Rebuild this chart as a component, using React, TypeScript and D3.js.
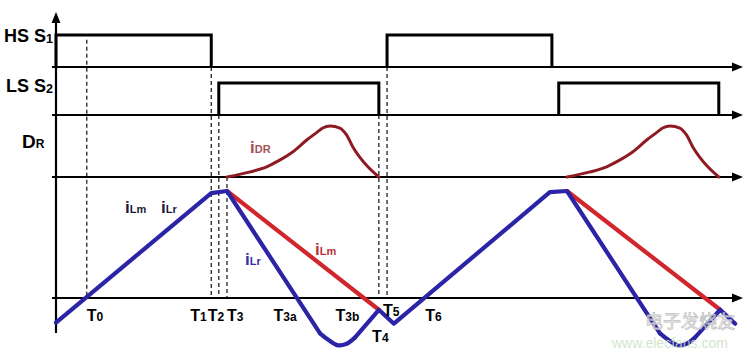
import * as d3 from 'd3'

const W = 754
const H = 354

// time runs 0..100 across the plot, currents are in units of the peak current
const hsPulses: [number, number][] = [[0, 22.7], [48.4, 72.5]]
const lsPulses: [number, number][] = [[23.8, 47.2], [73.5, 96.9]]

// rectifier diode current (normalised to its peak)
const iDR1: [number, number][] = [
  [25.0, 0], [28.4, 0.1], [30.8, 0.2], [32.7, 0.33], [34.6, 0.49], [36.7, 0.73], [38.2, 0.88],
  [39.0, 0.96], [40.1, 1], [41.5, 0.96], [42.5, 0.82], [43.4, 0.59], [44.4, 0.39], [45.6, 0.2], [47.2, 0],
]
const iDR2: [number, number][] = [
  [74.7, 0], [78.1, 0.1], [80.5, 0.2], [82.4, 0.33], [84.3, 0.49], [86.4, 0.73], [87.9, 0.88],
  [88.7, 0.96], [89.8, 1], [91.2, 0.96], [92.2, 0.82], [93.1, 0.59], [94.1, 0.39], [95.3, 0.2], [96.9, 0],
]

// resonant current iLr: straight ramps with rounded dips
const iLrRamp1: [number, number][] = [[0, -0.23], [22.7, 0.98], [25.0, 1.0], [38.6, -0.33]]
const iLrDip1: [number, number][] = [[38.6, -0.33], [39.8, -0.39], [41.1, -0.44], [42.4, -0.43], [43.7, -0.37]]
const iLrRamp2: [number, number][] = [[43.7, -0.37], [47.2, -0.11], [49.4, -0.24], [72.2, 0.99], [74.7, 1.0], [88.3, -0.33]]
const iLrDip2: [number, number][] = [[88.3, -0.33], [89.5, -0.39], [90.8, -0.44], [92.1, -0.43], [93.4, -0.37]]
const iLrTail: [number, number][] = [[93.4, -0.37], [97.1, -0.11], [99.3, -0.24]]

// magnetizing current iLm
const iLm1: [number, number][] = [[25.0, 1.0], [47.2, -0.11]]
const iLm2: [number, number][] = [[74.7, 1.0], [97.1, -0.11]]

// dashed instants and the lane where each dashed line starts
const markerTimes = [4.5, 22.7, 23.8, 25.0, 47.2, 48.4]
const markerFrom = ['hsHigh', 'hs', 'ls', 'dr', 'ls', 'hs']

// time labels: main letter, subscript, time
const timeLabels: [string, string, number][] = [
  ['T', '0', 4.5], ['T', '1', 22.7], ['T', '2', 23.8], ['T', '3', 25.0],
  ['T', '3a', 33.5], ['T', '3b', 42.6], ['T', '4', 47.2], ['T', '5', 48.4], ['T', '6', 55.2],
]

const BLUE = '#2b24a6'
const RED = '#d0262c'
const DARKRED = '#8e1b22'

export default function App() {
  const x = d3.scaleLinear().domain([0, 100]).range([56, 740])
  const hsY = d3.scaleLinear().domain([0, 1]).range([67, 35])
  const lsY = d3.scaleLinear().domain([0, 1]).range([115, 83])
  const drY = d3.scaleLinear().domain([0, 1]).range([177, 126])
  const iY = d3.scaleLinear().domain([0, 1]).range([298, 191])

  const lineI = (curve: d3.CurveFactory) =>
    d3.line<[number, number]>().x(d => x(d[0])).y(d => iY(d[1])).curve(curve)
  const lineDR = d3.line<[number, number]>().x(d => x(d[0])).y(d => drY(d[1])).curve(d3.curveMonotoneX)

  const pulse = (s: number, e: number, y: d3.ScaleLinear<number, number>) =>
    d3.line<[number, number]>().x(d => x(d[0])).y(d => y(d[1]))([[s, 0], [s, 1], [e, 1], [e, 0]])

  const topOf: Record<string, number> = { hsHigh: hsY(0.85), hs: hsY(0), ls: lsY(0), dr: drY(0) }

  // label placement (px) relative to the instant it names
  const labelPos: Record<string, { dx: number; y: number; anchor: string }> = {
    '0': { dx: 0, y: 321, anchor: 'start' },
    '1': { dx: -21, y: 321, anchor: 'start' },
    '2': { dx: -11, y: 321, anchor: 'start' },
    '3': { dx: 0, y: 321, anchor: 'start' },
    '3a': { dx: 0, y: 321, anchor: 'middle' },
    '3b': { dx: 0, y: 321, anchor: 'middle' },
    '4': { dx: 1.5, y: 342, anchor: 'middle' },
    '5': { dx: -4, y: 316, anchor: 'start' },
    '6': { dx: 0, y: 321, anchor: 'middle' },
  }

  const lanes = [hsY(0), lsY(0), drY(0), iY(0)]
  const font = "'Liberation Sans Narrow', 'Liberation Sans', Arial, sans-serif"

  return (
    <>
      <style>{'body{margin:0}'}</style>
      <svg width={W} height={H} style={{ display: 'block', background: '#fff' }} fontFamily={font}>
        {/* dashed instants */}
        {markerTimes.map((t, i) => (
          <line key={'m' + i} x1={x(t)} x2={x(t)} y1={topOf[markerFrom[i]]} y2={iY(0)}
            stroke="#222" strokeWidth={1.3} strokeDasharray="4,3" />
        ))}

        {/* axes */}
        <line x1={56} x2={56} y1={20} y2={333} stroke="#000" strokeWidth={2.2} />
        <path d="M56,12 L51.5,23 L60.5,23 Z" fill="#000" />
        {lanes.map((y, i) => (
          <g key={'a' + i}>
            <line x1={52} x2={734} y1={y} y2={y} stroke="#000" strokeWidth={2.2} />
            <path d={`M743,${y} L732,${y - 4.5} L732,${y + 4.5} Z`} fill="#000" />
          </g>
        ))}

        {/* gate signals */}
        {hsPulses.map(([s, e], i) => (
          <path key={'hs' + i} d={pulse(s, e, hsY) ?? ''} fill="none" stroke="#000" strokeWidth={3} />
        ))}
        {lsPulses.map(([s, e], i) => (
          <path key={'ls' + i} d={pulse(s, e, lsY) ?? ''} fill="none" stroke="#000" strokeWidth={3} />
        ))}

        {/* diode current */}
        {[iDR1, iDR2].map((d, i) => (
          <path key={'dr' + i} d={lineDR(d) ?? ''} fill="none" stroke={DARKRED} strokeWidth={3} strokeLinecap="round" />
        ))}

        {/* magnetizing current */}
        {[iLm1, iLm2].map((d, i) => (
          <path key={'lm' + i} d={lineI(d3.curveLinear)(d) ?? ''} fill="none" stroke={RED} strokeWidth={4.2} strokeLinecap="round" />
        ))}

        {/* resonant current */}
        {[iLrRamp1, iLrRamp2, iLrTail].map((d, i) => (
          <path key={'lr' + i} d={lineI(d3.curveLinear)(d) ?? ''} fill="none" stroke={BLUE} strokeWidth={4.2}
            strokeLinejoin="round" strokeLinecap="round" />
        ))}
        {[iLrDip1, iLrDip2].map((d, i) => (
          <path key={'dip' + i} d={lineI(d3.curveCatmullRom)(d) ?? ''} fill="none" stroke={BLUE} strokeWidth={4.2}
            strokeLinecap="round" />
        ))}

        {/* lane names */}
        <text x={4} y={41.7} fontSize={18} fontWeight="bold">HS S<tspan fontSize={12.5} dy={1.5}>1</tspan></text>
        <text x={6} y={91.7} fontSize={18} fontWeight="bold">LS S<tspan fontSize={12.5} dy={1.5}>2</tspan></text>
        <text x={22} y={148} fontSize={19} fontWeight="bold">D<tspan fontSize={12}>R</tspan></text>

        {/* curve names */}
        <text x={125} y={213} fontSize={17} fontWeight="bold" fill="#1c1c3a">i<tspan fontSize={11}>Lm</tspan></text>
        <text x={161} y={213} fontSize={17} fontWeight="bold" fill="#1c1c3a">i<tspan fontSize={11}>Lr</tspan></text>
        <text x={245} y={265} fontSize={17} fontWeight="bold" fill="#3530a8">i<tspan fontSize={11}>Lr</tspan></text>
        <text x={315} y={255} fontSize={17} fontWeight="bold" fill="#b8343a">i<tspan fontSize={11}>Lm</tspan></text>
        <text x={250} y={153} fontSize={17} fontWeight="bold" fill="#a45058">i<tspan fontSize={11}>DR</tspan></text>

        {/* time labels */}
        {timeLabels.map(([m, s, t]) => {
          const p = labelPos[s]
          return (
            <text key={'t' + s} x={x(t) + p.dx} y={p.y} fontSize={16} fontWeight="bold" textAnchor={p.anchor}>
              {m}<tspan fontSize={12}>{s}</tspan>
            </text>
          )
        })}

        {/* watermark */}
        <text x={645} y={328} fontSize={18} fontFamily="'Noto Sans CJK SC', sans-serif" fill="#fff"
          stroke="#b8b8b8" strokeWidth={0.8} opacity={0.85}>电子发烧友</text>
        <text x={612} y={348} fontSize={14} fill="#c9dfc2" opacity={0.8}>www.elecfans.com</text>
      </svg>
    </>
  )
}
